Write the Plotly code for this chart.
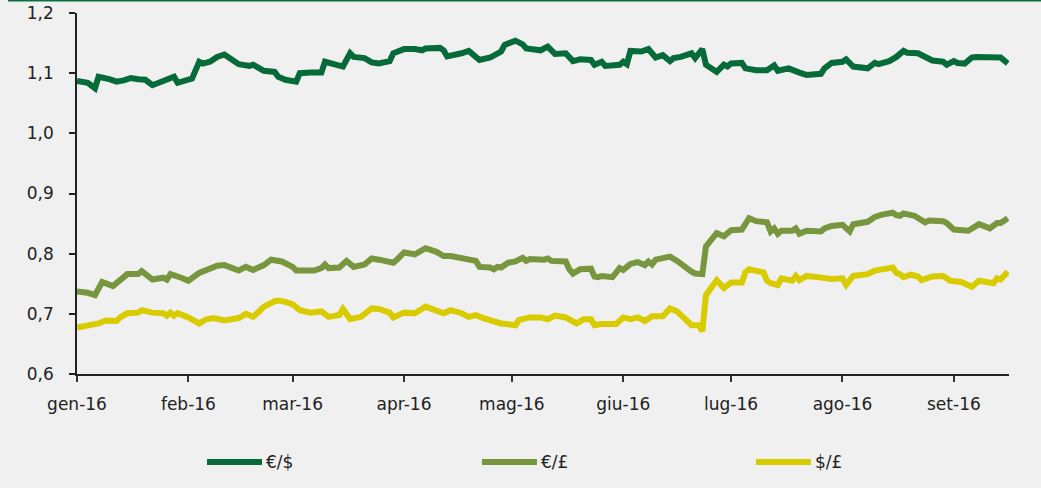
import plotly.graph_objects as go

# ---- data ----
eur_usd_dates = ["2016-01-01","2016-01-04","2016-01-06","2016-01-07","2016-01-10","2016-01-12","2016-01-14","2016-01-16","2016-01-18","2016-01-20","2016-01-22","2016-01-25","2016-01-28","2016-01-29",
"2016-02-02","2016-02-04","2016-02-05","2016-02-07","2016-02-09","2016-02-11","2016-02-13","2016-02-15","2016-02-18","2016-02-19","2016-02-22","2016-02-25","2016-02-26","2016-02-28",
"2016-03-02","2016-03-03","2016-03-06","2016-03-09","2016-03-10","2016-03-12","2016-03-15","2016-03-17","2016-03-18","2016-03-21","2016-03-23","2016-03-25","2016-03-28","2016-03-29",
"2016-04-01","2016-04-04","2016-04-06","2016-04-07","2016-04-11","2016-04-12","2016-04-13","2016-04-17","2016-04-19","2016-04-22","2016-04-25","2016-04-28","2016-04-29",
"2016-05-02","2016-05-04","2016-05-05","2016-05-09","2016-05-11","2016-05-13","2016-05-16","2016-05-18","2016-05-20","2016-05-23","2016-05-24","2016-05-26","2016-05-27","2016-05-31",
"2016-06-01","2016-06-02","2016-06-03","2016-06-06","2016-06-08","2016-06-10","2016-06-12","2016-06-14","2016-06-15","2016-06-17","2016-06-20","2016-06-21","2016-06-23","2016-06-24","2016-06-27","2016-06-29","2016-06-30",
"2016-07-01","2016-07-04","2016-07-05","2016-07-08","2016-07-11","2016-07-13","2016-07-14","2016-07-17","2016-07-19","2016-07-20","2016-07-22","2016-07-26","2016-07-27","2016-07-29",
"2016-08-01","2016-08-02","2016-08-04","2016-08-08","2016-08-10","2016-08-11","2016-08-14","2016-08-16","2016-08-18","2016-08-19","2016-08-22","2016-08-24","2016-08-26","2016-08-29","2016-08-30",
"2016-09-01","2016-09-02","2016-09-04","2016-09-06","2016-09-07","2016-09-12","2016-09-14","2016-09-16"]
eur_usd = [1.087,1.084,1.075,1.094,1.090,1.086,1.088,1.092,1.090,1.089,1.080,1.086,1.094,1.084,
1.091,1.119,1.116,1.119,1.127,1.131,1.123,1.115,1.112,1.114,1.104,1.102,1.094,1.089,
1.086,1.100,1.101,1.101,1.119,1.115,1.111,1.133,1.127,1.125,1.118,1.116,1.120,1.133,
1.140,1.140,1.138,1.141,1.142,1.138,1.128,1.133,1.137,1.122,1.126,1.136,1.147,
1.154,1.148,1.141,1.138,1.144,1.132,1.133,1.120,1.123,1.122,1.114,1.119,1.112,1.114,
1.119,1.115,1.137,1.136,1.140,1.126,1.130,1.120,1.125,1.127,1.133,1.125,1.140,1.114,1.102,1.114,1.111,
1.116,1.117,1.108,1.105,1.105,1.113,1.104,1.108,1.102,1.101,1.097,1.099,1.108,1.117,
1.119,1.123,1.111,1.108,1.117,1.115,1.120,1.127,1.137,1.134,1.133,1.127,1.121,1.119,1.114,
1.120,1.117,1.116,1.126,1.127,1.125,1.126,1.116]

eur_gbp_dates = ["2016-01-01","2016-01-04","2016-01-06","2016-01-08","2016-01-11","2016-01-13","2016-01-15","2016-01-18","2016-01-19","2016-01-22","2016-01-25","2016-01-26","2016-01-27","2016-01-30",
"2016-02-01","2016-02-04","2016-02-07","2016-02-09","2016-02-11","2016-02-13","2016-02-15","2016-02-17","2016-02-19","2016-02-22","2016-02-24","2016-02-27",
"2016-03-01","2016-03-02","2016-03-07","2016-03-09","2016-03-10","2016-03-11","2016-03-14","2016-03-16","2016-03-18","2016-03-21","2016-03-23","2016-03-25","2016-03-29","2016-03-30",
"2016-04-01","2016-04-04","2016-04-07","2016-04-10","2016-04-12","2016-04-14","2016-04-18","2016-04-21","2016-04-22","2016-04-25","2016-04-26","2016-04-27","2016-04-28","2016-04-30",
"2016-05-02","2016-05-04","2016-05-05","2016-05-06","2016-05-10","2016-05-11","2016-05-12","2016-05-16","2016-05-17","2016-05-18","2016-05-20","2016-05-23","2016-05-24","2016-05-25","2016-05-26","2016-05-29","2016-05-31",
"2016-06-01","2016-06-03","2016-06-05","2016-06-07","2016-06-08","2016-06-09","2016-06-10","2016-06-14","2016-06-16","2016-06-20","2016-06-21","2016-06-23","2016-06-24","2016-06-27","2016-06-29",
"2016-07-01","2016-07-04","2016-07-06","2016-07-08","2016-07-11","2016-07-12","2016-07-13","2016-07-14","2016-07-15","2016-07-18","2016-07-19","2016-07-20","2016-07-22","2016-07-26","2016-07-27","2016-07-29",
"2016-08-01","2016-08-03","2016-08-04","2016-08-08","2016-08-10","2016-08-12","2016-08-15","2016-08-16","2016-08-17","2016-08-18","2016-08-21","2016-08-24","2016-08-25","2016-08-29","2016-08-30",
"2016-09-01","2016-09-05","2016-09-08","2016-09-11","2016-09-13","2016-09-14","2016-09-16"]
eur_gbp = [0.737,0.735,0.731,0.753,0.746,0.755,0.766,0.766,0.771,0.757,0.760,0.757,0.766,0.760,
0.755,0.768,0.774,0.780,0.781,0.776,0.772,0.778,0.773,0.781,0.790,0.787,
0.778,0.772,0.772,0.776,0.782,0.776,0.777,0.788,0.778,0.782,0.792,0.790,0.785,0.790,
0.802,0.799,0.809,0.803,0.796,0.796,0.792,0.788,0.778,0.777,0.774,0.778,0.777,0.785,
0.787,0.793,0.788,0.791,0.790,0.792,0.788,0.787,0.774,0.767,0.774,0.775,0.762,0.761,0.763,0.761,0.776,
0.773,0.783,0.786,0.781,0.787,0.782,0.790,0.795,0.788,0.770,0.767,0.766,0.812,0.834,0.829,
0.839,0.840,0.859,0.854,0.852,0.837,0.842,0.833,0.838,0.838,0.842,0.833,0.838,0.837,0.842,0.846,
0.848,0.837,0.849,0.853,0.861,0.865,0.868,0.864,0.863,0.867,0.863,0.852,0.855,0.854,0.851,
0.840,0.838,0.849,0.842,0.851,0.851,0.859]

usd_gbp_dates = ["2016-01-01","2016-01-04","2016-01-07","2016-01-09","2016-01-12","2016-01-13","2016-01-15","2016-01-18","2016-01-19","2016-01-22","2016-01-25","2016-01-26","2016-01-27","2016-01-28","2016-01-29",
"2016-02-01","2016-02-04","2016-02-06","2016-02-08","2016-02-11","2016-02-13","2016-02-15","2016-02-17","2016-02-19","2016-02-21","2016-02-22","2016-02-25","2016-02-26","2016-02-28",
"2016-03-01","2016-03-03","2016-03-06","2016-03-09","2016-03-11","2016-03-14","2016-03-15","2016-03-17","2016-03-20","2016-03-23","2016-03-25","2016-03-28","2016-03-29",
"2016-04-01","2016-04-04","2016-04-07","2016-04-10","2016-04-12","2016-04-14","2016-04-17","2016-04-19","2016-04-21","2016-04-23","2016-04-26","2016-04-28",
"2016-05-02","2016-05-03","2016-05-06","2016-05-09","2016-05-11","2016-05-12","2016-05-13","2016-05-16","2016-05-19","2016-05-21","2016-05-23","2016-05-24","2016-05-26","2016-05-30",
"2016-06-01","2016-06-03","2016-06-05","2016-06-07","2016-06-09","2016-06-12","2016-06-14","2016-06-16","2016-06-18","2016-06-20","2016-06-22","2016-06-23","2016-06-24","2016-06-27","2016-06-29",
"2016-07-01","2016-07-04","2016-07-05","2016-07-06","2016-07-10","2016-07-11","2016-07-12","2016-07-14","2016-07-15","2016-07-18","2016-07-19","2016-07-20","2016-07-22","2016-07-25","2016-07-29",
"2016-08-01","2016-08-02","2016-08-04","2016-08-08","2016-08-10","2016-08-12","2016-08-15","2016-08-16","2016-08-17","2016-08-18","2016-08-20","2016-08-22","2016-08-23","2016-08-26","2016-08-29","2016-08-31",
"2016-09-03","2016-09-06","2016-09-08","2016-09-12","2016-09-13","2016-09-14","2016-09-16"]
usd_gbp = [0.677,0.680,0.684,0.689,0.688,0.694,0.701,0.702,0.706,0.702,0.701,0.697,0.702,0.697,0.701,
0.694,0.684,0.691,0.693,0.689,0.691,0.693,0.700,0.695,0.706,0.712,0.721,0.722,0.720,
0.716,0.706,0.702,0.704,0.695,0.698,0.708,0.691,0.695,0.709,0.708,0.702,0.694,
0.702,0.701,0.712,0.705,0.701,0.706,0.701,0.695,0.698,0.693,0.687,0.684,
0.681,0.690,0.694,0.694,0.691,0.693,0.697,0.694,0.684,0.691,0.691,0.681,0.683,0.683,
0.694,0.691,0.694,0.688,0.696,0.696,0.709,0.704,0.691,0.681,0.681,0.671,0.731,0.756,0.743,
0.752,0.752,0.769,0.774,0.769,0.755,0.751,0.748,0.759,0.755,0.763,0.756,0.763,0.761,0.758,
0.759,0.748,0.763,0.766,0.772,0.775,0.777,0.768,0.766,0.761,0.765,0.762,0.756,0.762,0.763,0.755,
0.753,0.745,0.755,0.751,0.759,0.757,0.770]

series_names = ["€/$", "€/£", "$/£"]
series_colors = ["#076B39", "#77963D", "#D8CB00"]

tick_dates = ["2016-01-01","2016-02-01","2016-03-01","2016-04-01","2016-05-01","2016-06-01","2016-07-01","2016-08-01","2016-09-01"]
tick_labels = ["gen-16","feb-16","mar-16","apr-16","mag-16","giu-16","lug-16","ago-16","set-16"]

FONT = "DejaVu Sans"
BG = "#F0F0F0"

fig = go.Figure()
for name, xs, ys, col in zip(series_names,
                             [eur_usd_dates, eur_gbp_dates, usd_gbp_dates],
                             [eur_usd, eur_gbp, usd_gbp],
                             series_colors):
    fig.add_trace(go.Scatter(x=xs, y=ys, mode="lines", name=name,
                             line=dict(color=col, width=6), showlegend=False))

# manual legend (line sample + text), placed below the plot
leg_x = [0.1395, 0.4345, 0.7285]
leg_y = -0.2438
for lx, name, col in zip(leg_x, series_names, series_colors):
    fig.add_shape(type="line", xref="paper", yref="paper",
                  x0=lx, x1=lx + 0.059, y0=leg_y, y1=leg_y,
                  line=dict(color=col, width=6))
    fig.add_annotation(xref="paper", yref="paper", x=lx + 0.061, y=leg_y,
                       text=name, showarrow=False, xanchor="left", yanchor="middle",
                       font=dict(family=FONT, size=17, color="#222222"))

# top green rule
fig.add_shape(type="line", xref="paper", yref="paper",
              x0=-0.074, x1=1.04, y0=1.0346, y1=1.0346,
              line=dict(color="#0A7040", width=2))

fig.update_layout(
    width=1041, height=488,
    margin=dict(l=77, r=32, t=13, b=114, autoexpand=False),
    paper_bgcolor=BG, plot_bgcolor=BG,
    separators=",.",
    font=dict(family=FONT, size=17, color="#222222"),
    xaxis=dict(type="date", range=["2016-01-01", "2016-09-16 08:00"],
               tickvals=tick_dates, ticktext=tick_labels,
               showgrid=False, zeroline=False, automargin=False,
               showline=True, linecolor="#222222", linewidth=1.5,
               ticks="outside", ticklen=6, tickcolor="#333333", tickwidth=1.5,
               ticklabelstandoff=8,
               tickfont=dict(family=FONT, size=17, color="#222222")),
    yaxis=dict(range=[0.6, 1.2], dtick=0.1, tick0=0.6, tickformat=".1f",
               showgrid=False, zeroline=False, automargin=False,
               showline=True, linecolor="#222222", linewidth=1.5,
               ticks="outside", ticklen=6, tickcolor="#222222", tickwidth=1.5,
               ticklabelstandoff=12,
               tickfont=dict(family=FONT, size=17, color="#222222")),
)

fig.write_html("out.html",
               config={"displayModeBar": False},
               post_script="document.body.style.margin='0';document.body.style.overflow='hidden';")
